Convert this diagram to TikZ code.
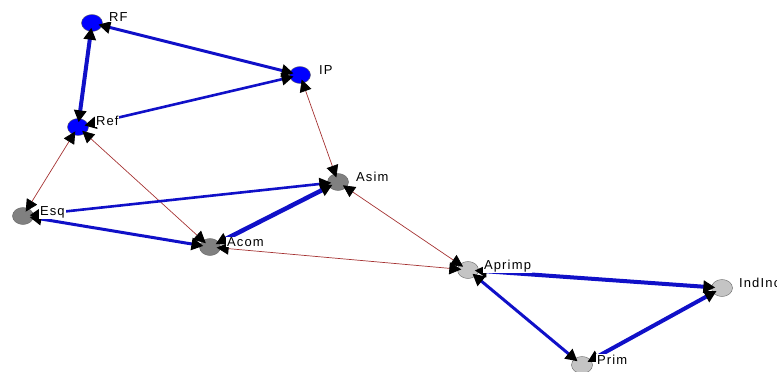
\documentclass[tikz,border=0pt]{standalone}
\usepackage{fontspec}
\newfontfamily\labfont[LetterSpace=9]{Liberation Sans}
\usetikzlibrary{arrows.meta,shapes.geometric}
\definecolor{eblue}{RGB}{16,16,200}
\definecolor{ered}{RGB}{165,50,50}
\definecolor{nblue}{RGB}{0,0,255}
\definecolor{ndark}{RGB}{128,128,128}
\definecolor{nlight}{RGB}{196,196,196}
\tikzset{
  vert/.style={ellipse,draw=black!60,line width=0.4pt,minimum width=21pt,minimum height=17pt,inner sep=0pt},
  vblue/.style={vert,fill=nblue},
  vdark/.style={vert,fill=ndark},
  vlight/.style={vert,fill=nlight},
  tip/.tip={Triangle[length=12pt 0,width=12pt 0,black]},
  bi/.style={tip-tip,shorten <=-4pt,shorten >=-4pt},
  bedge/.style={bi,draw=eblue},
  redge/.style={bi,draw=ered,line width=0.7pt},
  lab/.style={anchor=west,fill=white,inner sep=0.8pt,font=\labfont\fontsize{13}{15}\selectfont}
}
\begin{document}
\begin{tikzpicture}[x=1pt,y=-1pt]
\useasboundingbox (0,0) rectangle (777,372);
% nodes
\node[vblue]  (RF)  at (92,23) {};
\node[vblue]  (IP)  at (300,75) {};
\node[vblue]  (Ref) at (78,127) {};
\node[vdark]  (Asim) at (338,182) {};
\node[vdark]  (Esq) at (23,216) {};
\node[vdark]  (Acom) at (210,247) {};
\node[vlight] (Aprimp) at (468,270) {};
\node[vlight] (IndInc) at (722,288) {};
\node[vlight] (Prim) at (582,365) {};
% edges
\draw[redge] (IP) -- (Asim);
\draw[redge] (Ref) -- (Esq);
\draw[redge] (Ref) -- (Acom);
\draw[redge] (Asim) -- (Aprimp);
\draw[redge] (Acom) -- (Aprimp);
\draw[bedge,line width=3pt] (RF) -- (IP);
\draw[bedge,line width=4pt] (RF) -- (Ref);
\draw[bedge,line width=2.6pt] (Ref) -- (IP);
\draw[bedge,line width=2.6pt] (Esq) -- (Asim);
\draw[bedge,line width=3pt] (Esq) -- (Acom);
\draw[bedge,line width=4.5pt] (Acom) -- (Asim);
\draw[bedge,line width=4pt] (Aprimp) -- (IndInc);
\draw[bedge,line width=3pt] (Aprimp) -- (Prim);
\draw[bedge,line width=4pt] (Prim) -- (IndInc);
% labels
\node[lab] (lRF) at ([shift={(16,-6)}]RF.center) {RF};
\node[lab] (lIP) at ([shift={(18,-5)}]IP.center) {IP};
\node[lab] (lRef) at ([shift={(17,-6)}]Ref.center) {Ref};
\node[lab] (lAsim) at ([shift={(17,-5)}]Asim.center) {Asim};
\node[lab] (lEsq) at ([shift={(16,-4)}]Esq.center) {Esq};
\node[lab] (lAcom) at ([shift={(16,-5)}]Acom.center) {Acom};
\node[lab] (lAprimp) at ([shift={(15,-4)}]Aprimp.center) {Aprimp};
\node[lab] (lIndInc) at ([shift={(16,-5)}]IndInc.center) {IndInc};
\node[lab] (lPrim) at ([shift={(14,-5)}]Prim.center) {Prim};
\end{tikzpicture}
\end{document}
